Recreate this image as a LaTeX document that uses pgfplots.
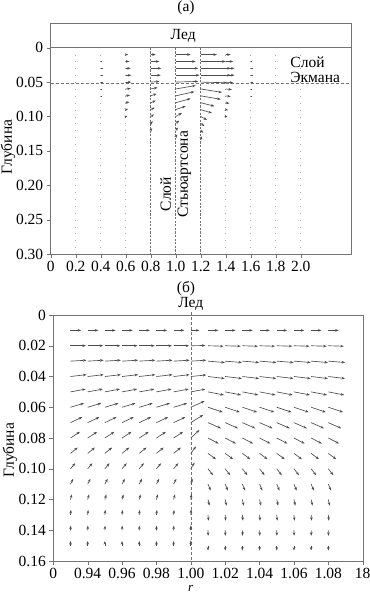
\documentclass[border=0pt]{standalone}
\usepackage{fontspec}
\setmainfont{Liberation Serif}
\usepackage{pgfplots}
\pgfplotsset{compat=1.18}
\usepackage{pgfplotstable}
\usetikzlibrary{arrows.meta}

\definecolor{axgray}{gray}{0.45}
\definecolor{arrgray}{gray}{0.3}

% top panel: x y u v
\pgfplotstableread{
x y u v
0.6 0.01 0.02 0
0.6 0.02 0.03 0
0.6 0.03 0.04 0
0.6 0.04 0.045 0
0.6 0.05 0.045 0
0.6 0.06 0.04 -0.0008
0.6 0.07 0.035 -0.001
0.6 0.08 0.03 -0.001
0.6 0.09 0.02 -0.001
0.6 0.10 0.015 -0.001
0.8 0.01 0.04 0
0.8 0.02 0.07 0
0.8 0.03 0.085 0
0.8 0.04 0.08 0
0.8 0.05 0.07 -0.001
0.8 0.06 0.055 -0.002
0.8 0.07 0.048 -0.003
0.8 0.08 0.04 -0.003
0.8 0.09 0.032 -0.003
0.8 0.10 0.027 -0.003
0.8 0.11 0.018 -0.003
0.8 0.12 0.012 -0.003
1.0 0.01 0.12 0
1.0 0.02 0.16 0
1.0 0.03 0.18 0
1.0 0.04 0.19 0
1.0 0.05 0.18 -0.001
1.0 0.06 0.16 -0.005
1.0 0.07 0.15 -0.006
1.0 0.08 0.12 -0.006
1.0 0.09 0.08 -0.005
1.0 0.10 0.05 -0.005
1.0 0.11 0.03 -0.004
1.0 0.12 0.02 -0.004
1.0 0.13 0.012 -0.004
1.2 0.01 0.13 0
1.2 0.02 0.20 0
1.2 0.03 0.24 0
1.2 0.04 0.24 0
1.2 0.05 0.21 0.001
1.2 0.06 0.17 0.005
1.2 0.07 0.16 0.005
1.2 0.08 0.11 0.005
1.2 0.09 0.09 0.005
1.2 0.10 0.05 0.005
1.2 0.11 0.03 0.004
1.2 0.12 0.02 0.004
1.2 0.13 0.012 0.004
1.4 0.01 0.04 0
1.4 0.02 0.06 0
1.4 0.03 0.07 0
1.4 0.04 0.07 0
1.4 0.05 0.06 0.001
1.4 0.06 0.05 0.001
1.4 0.07 0.04 0.001
1.4 0.08 0.03 0.001
1.4 0.09 0.02 0.001
1.4 0.10 0.015 0.001
}\toparrows

\pgfplotstableread{
x y u v
0.4 0.02 0.012 0
0.4 0.03 0.015 0
0.4 0.04 0.015 0
0.4 0.05 0.015 0
0.4 0.06 0.012 0
0.4 0.07 0.01 0
1.6 0.02 0.012 0
1.6 0.03 0.015 0
1.6 0.04 0.015 0
1.6 0.05 0.015 0
1.6 0.06 0.012 0
1.6 0.07 0.01 0
}\topdashes

% bottom panel: rows for the columns left of r=1, at r=1, right of r=1
\pgfplotstableread{
y u v
0.01 0.0062 0
0.02 0.0090 0
0.03 0.0093 -0.0006
0.04 0.0093 -0.0012
0.05 0.0088 -0.0018
0.06 0.0078 -0.0026
0.07 0.0068 -0.0036
0.08 0.0055 -0.0040
0.09 0.0042 -0.0038
0.10 0.0027 -0.0036
0.11 0.0016 -0.0035
0.12 0.0008 -0.0033
0.13 0.0003 -0.0032
0.14 0.0001 -0.0030
0.15 0 -0.0030
}\leftrows

\pgfplotstableread{
y u v
0.01 0.0050 0
0.02 0.0085 -0.0002
0.03 0.0090 -0.0006
0.04 0.0090 -0.0010
0.05 0.0085 -0.0018
0.06 0.0080 -0.0040
0.07 0.0072 -0.0050
0.08 0.0050 -0.0052
0.09 0.0030 -0.0045
0.10 0.0022 -0.0040
0.11 0.0010 -0.0035
0.12 0.0004 -0.0035
0.13 0.0002 -0.0035
0.14 0 -0.0032
0.15 0 -0.0035
}\midrows

\pgfplotstableread{
y u v
0.01 0.0060 0
0.02 0.0090 0.0003
0.03 0.0098 0.0009
0.04 0.0097 0.0013
0.05 0.0093 0.0020
0.06 0.0086 0.0032
0.07 0.0075 0.0037
0.08 0.0062 0.0036
0.09 0.0046 0.0038
0.10 0.0029 0.0042
0.11 0.0016 0.0042
0.12 0.0008 0.0040
0.13 0.0003 0.0038
0.14 0.0001 0.0036
0.15 0 0.0032
}\rightrows

\pgfplotsset{
  myax/.style={
    scale only axis,
    y dir=reverse,
    axis line style={axgray},
    tick align=outside,
    xtick pos=left, ytick pos=left,
    major tick length=4pt,
    tick style={axgray},
    font=\fontsize{15.5}{17}\selectfont,
    ylabel={Глубина},
    clip=false,
  },
  arr/.style={
    arrgray, line width=0.65pt,
    quiver={u=\thisrow{u}, v=\thisrow{v},
      every arrow/.append style={-{Stealth[length=3.5pt,width=2.6pt]}}},
  },
  nohead/.style={
    arrgray, line width=0.65pt,
    quiver={u=\thisrow{u}, v=\thisrow{v}},
  },
}

\begin{document}
\begin{tikzpicture}
% ---------------- (a) ----------------
\begin{axis}[myax,
  width=300pt, height=230.7pt,
  at={(50.7pt,-254pt)}, anchor=south west,
  xmin=0, xmax=2.4, ymin=-0.0355, ymax=0.30,
  xtick={0,0.2,0.4,0.6,0.8,1.0,1.2,1.4,1.6,1.8,2.0},
  xticklabels={0,0.2,0.4,0.6,0.8,1.0,1.2,1.4,1.6,1.8,2.0},
  ytick={0,0.05,0.10,0.15,0.20,0.25,0.30},
  yticklabels={0,0.05,0.10,0.15,0.20,0.25,0.30},
  ylabel style={at={(axis description cs:-0.142,0.464)}, anchor=center},
]
% light dotted columns (tiny vectors)
\pgfplotsinvokeforeach{0.2,0.4,0.6,1.4,1.6,1.8,2.0}{
  \addplot[gray!70, line width=0.7pt, dash pattern=on 0.8pt off 6.08pt]
    coordinates {(#1,0.01) (#1,0.30)};
}
% dashed columns at the Stewartson layer
\pgfplotsinvokeforeach{0.8,1.0,1.2}{
  \addplot[axgray, line width=0.6pt, dash pattern=on 2.2pt off 1.4pt]
    coordinates {(#1,0) (#1,0.30)};
}
% ice bottom and Ekman layer
\addplot[axgray, line width=0.8pt] coordinates {(0,0) (2.4,0)};
\addplot[axgray, line width=0.6pt, dash pattern=on 3pt off 2pt]
  coordinates {(0,0.052) (2.4,0.052)};
\addplot[nohead] table {\topdashes};
\addplot[arr] table {\toparrows};
\node at (axis cs:1.06,-0.0175) {Лед};
\node[anchor=west] at (axis cs:1.89,0.021) {Слой};
\node[anchor=west] at (axis cs:1.89,0.043) {Экмана};
\node[rotate=90] at (axis cs:0.92,0.213) {Слой};
\node[rotate=90] at (axis cs:1.07,0.184) {Стьюартсона};
\end{axis}

% ---------------- (б) ----------------
\begin{axis}[myax,
  width=309.4pt, height=246pt,
  at={(53.3pt,-561pt)}, anchor=south west,
  xmin=0.92, xmax=1.10, ymin=0, ymax=0.16,
  xtick={0.92,0.94,0.96,0.98,1.00,1.02,1.04,1.06,1.08,1.10},
  xticklabels={0,0.94,0.96,0.98,1.00,1.02,1.04,1.06,1.08,18},
  ytick={0,0.02,0.04,0.06,0.08,0.10,0.12,0.14,0.16},
  yticklabels={0,0.02,0.04,0.06,0.08,0.10,0.12,0.14,0.16},
  ylabel style={at={(axis description cs:-0.14,0.45)}, anchor=center},
  xlabel={\textit{r}},
  xlabel style={at={(ticklabel cs:0.444)}, yshift=1pt, font=\fontsize{13}{14}\selectfont},
]
\addplot[axgray, line width=0.6pt, dash pattern=on 3pt off 2pt]
  coordinates {(1.00,-0.002) (1.00,0.16)};
\pgfplotsinvokeforeach{0.93,0.94,0.95,0.96,0.97,0.98,0.99}{
  \addplot[arr] table[x expr=#1, y=y] {\leftrows};
}
\addplot[arr] table[x expr=1.00, y=y] {\midrows};
\pgfplotsinvokeforeach{1.01,1.02,1.03,1.04,1.05,1.06,1.07,1.08}{
  \addplot[arr] table[x expr=#1, y=y] {\rightrows};
}
\node[anchor=south, inner sep=1pt] at (axis cs:1.00,-0.002) {Лед};
\end{axis}

\node[font=\fontsize{15.5}{17}\selectfont] at (186pt,-8pt) {(а)};
\node[font=\fontsize{15.5}{17}\selectfont] at (186pt,-289pt) {(б)};
\pgfresetboundingbox
\path (0pt,0pt) rectangle (369pt,-596pt);
\end{tikzpicture}
\end{document}
